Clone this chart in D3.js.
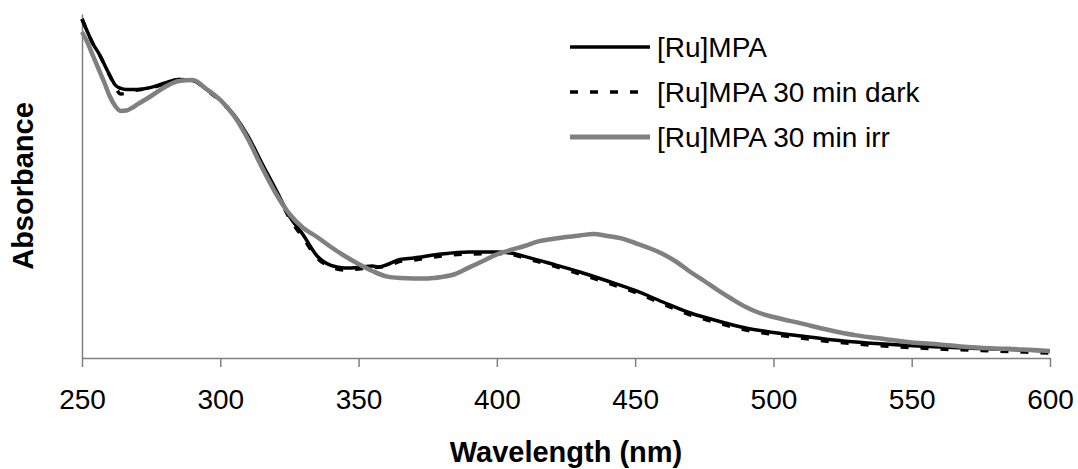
<!DOCTYPE html>
<html>
<head>
<meta charset="utf-8">
<script src="https://cdn.jsdelivr.net/npm/d3@7"></script>
<style>
  html, body { margin: 0; padding: 0; background: #fff; }
  svg { display: block; font-family: "Liberation Sans", Arial, sans-serif; }
</style>
</head>
<body>
<svg id="chart" width="1078" height="469"></svg>
<script>
// UV-Vis absorbance spectra of [Ru]MPA (arbitrary absorbance units)
const wavelengthMPA = [250,252,254,256,258,260,262,264,266,270,275,280,285,290,295,300,305,310,315,320,325,330,335,340,345,350,355,357,360,365,370,380,390,400,405,410,420,430,440,450,460,470,480,490,500,510,520,540,560,580,600];
const absMPA = [1.695,1.630,1.570,1.525,1.470,1.415,1.365,1.348,1.343,1.343,1.353,1.375,1.393,1.388,1.343,1.290,1.215,1.110,0.975,0.845,0.710,0.615,0.510,0.463,0.450,0.453,0.460,0.455,0.465,0.493,0.500,0.520,0.530,0.530,0.525,0.508,0.470,0.430,0.385,0.338,0.280,0.225,0.185,0.150,0.128,0.110,0.093,0.070,0.055,0.045,0.035];

const wavelengthDark = [250,252,254,256,258,260,262,264,266,268,270,275,280,285,290,295,300,305,310,315,320,325,330,335,340,345,350,355,360,365,370,380,390,400,405,410,420,430,440,450,460,470,480,490,500,510,520,540,560,580,600];
const absDark = [1.695,1.630,1.570,1.525,1.470,1.412,1.355,1.320,1.325,1.335,1.340,1.350,1.372,1.392,1.388,1.340,1.285,1.210,1.105,0.970,0.840,0.700,0.600,0.500,0.455,0.440,0.445,0.452,0.458,0.483,0.490,0.510,0.520,0.522,0.518,0.500,0.462,0.420,0.375,0.328,0.270,0.215,0.175,0.140,0.118,0.100,0.083,0.060,0.045,0.035,0.025];

const wavelengthIrr = [250,252,254,256,258,260,262,264,266,268,270,275,280,285,290,295,300,305,310,315,320,325,330,335,340,345,350,355,360,365,370,375,380,385,390,395,400,405,410,415,420,425,430,435,440,445,450,455,460,465,470,475,480,485,490,495,500,510,520,530,540,550,560,570,580,590,600];
const absIrr = [1.630,1.577,1.510,1.445,1.380,1.310,1.260,1.235,1.237,1.250,1.268,1.310,1.355,1.385,1.390,1.345,1.290,1.210,1.095,0.955,0.825,0.720,0.650,0.605,0.555,0.510,0.470,0.435,0.408,0.400,0.398,0.398,0.405,0.420,0.453,0.485,0.518,0.540,0.560,0.583,0.595,0.605,0.613,0.620,0.610,0.598,0.575,0.550,0.520,0.480,0.430,0.385,0.338,0.295,0.255,0.225,0.205,0.173,0.140,0.113,0.095,0.078,0.068,0.055,0.048,0.043,0.035];

const seriesNames = ["[Ru]MPA", "[Ru]MPA 30 min dark", "[Ru]MPA 30 min irr"];
const xTicks = [250, 300, 350, 400, 450, 500, 550, 600];

const svg = d3.select("#chart");
const plotLeft = 82, plotRight = 1050, plotTop = 14, plotBottom = 358;

const x = d3.scaleLinear().domain([250, 600]).range([plotLeft, plotRight]);
const y = d3.scaleLinear().domain([0, 1.72]).range([plotBottom, plotTop]);

const axisGrey = "#808080";

// x axis
const gx = svg.append("g")
  .attr("transform", `translate(0,${plotBottom})`)
  .call(d3.axisBottom(x).tickValues(xTicks).tickFormat(d3.format("d"))
    .tickSize(9).tickSizeOuter(0).tickPadding(22));
gx.select(".domain").attr("stroke", axisGrey).attr("stroke-width", 1.5);
gx.selectAll(".tick line").attr("stroke", axisGrey).attr("stroke-width", 1.5);
gx.selectAll(".tick text").attr("fill", "#000").style("font-size", "28px")
  .style("font-family", "'Liberation Sans', Arial, sans-serif");

// y axis (no ticks)
const gy = svg.append("g")
  .attr("transform", `translate(${plotLeft},0)`)
  .call(d3.axisLeft(y).tickValues([]).tickSizeOuter(0));
gy.select(".domain").attr("stroke", axisGrey).attr("stroke-width", 1.5);

// axis titles
svg.append("text")
  .attr("x", (plotLeft + plotRight) / 2).attr("y", 462)
  .attr("text-anchor", "middle")
  .style("font-size", "29px").style("font-weight", "bold")
  .text("Wavelength (nm)");

svg.append("text")
  .attr("transform", `translate(33,${(plotTop + plotBottom) / 2}) rotate(-90)`)
  .attr("text-anchor", "middle")
  .style("font-size", "29px").style("font-weight", "bold")
  .text("Absorbance");

// spectra
const line = d3.line()
  .x(d => x(d[0])).y(d => y(d[1]))
  .curve(d3.curveMonotoneX);

const styles = [
  { stroke: "#000", width: 3.5, dash: null },
  { stroke: "#000", width: 3.5, dash: "8,12" },
  { stroke: "#808080", width: 4.5, dash: null }
];
const data = [
  d3.zip(wavelengthMPA, absMPA),
  d3.zip(wavelengthDark, absDark),
  d3.zip(wavelengthIrr, absIrr)
];

data.forEach((pts, i) => {
  svg.append("path")
    .datum(pts)
    .attr("fill", "none")
    .attr("stroke", styles[i].stroke)
    .attr("stroke-width", styles[i].width)
    .attr("stroke-dasharray", styles[i].dash)
    .attr("d", line);
});

// legend
const legendRows = [47, 92, 137];
const lg = svg.append("g");
seriesNames.forEach((name, i) => {
  lg.append("line")
    .attr("x1", 570).attr("x2", 650)
    .attr("y1", legendRows[i]).attr("y2", legendRows[i])
    .attr("stroke", styles[i].stroke)
    .attr("stroke-width", i === 2 ? 5 : 3.5)
    .attr("stroke-dasharray", styles[i].dash);
  lg.append("text")
    .attr("x", 657).attr("y", legendRows[i])
    .attr("dy", "0.35em")
    .style("font-size", "28px")
    .text(name);
});
</script>
</body>
</html>
